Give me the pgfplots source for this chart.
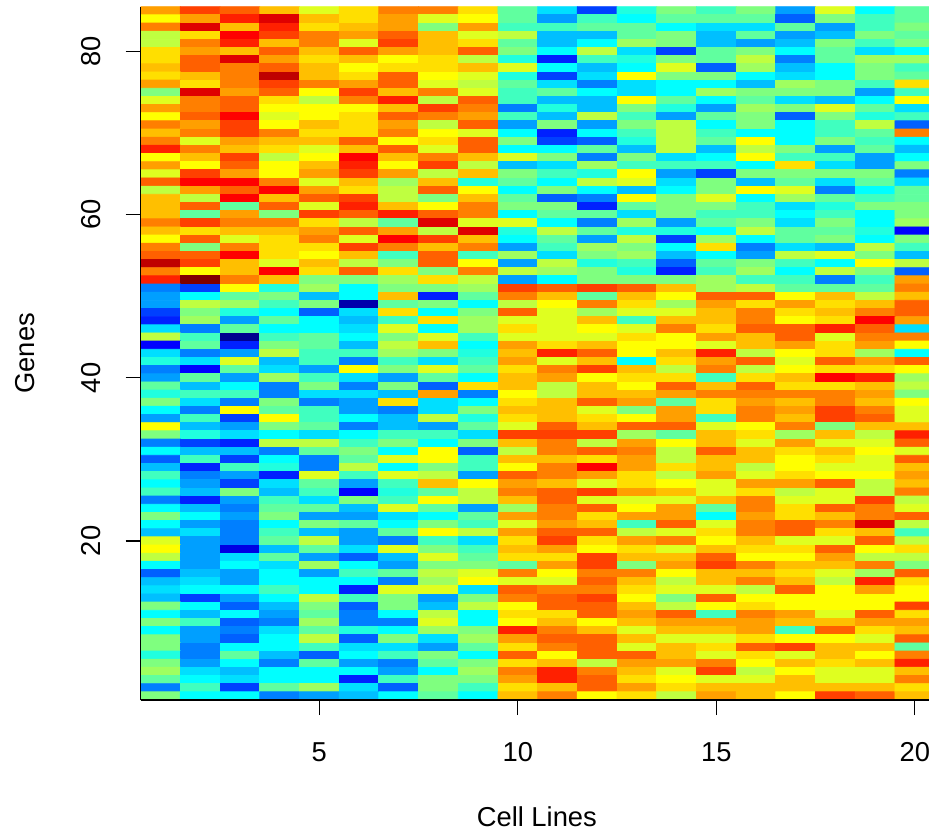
\documentclass[border=0pt]{standalone}
\usepackage{fontspec}
\setmainfont{Liberation Sans}
\usepackage{pgfplots}
\pgfplotsset{compat=1.18}
\begin{document}
\begin{tikzpicture}
\path[use as bounding box] (-70.35pt,-66pt) rectangle (394.15pt,350pt);
\begin{axis}[
  at={(0,0)},anchor=south west,
  scale only axis,width=394.15pt,height=346.65pt,
  xmin=0.5,xmax=20.357,ymin=0.5,ymax=85.5,
  axis x line*=bottom,axis y line*=left,
  axis line style={line width=0.65pt,-},
  xtick={5,10,15,20},ytick={20,40,60,80},
  tick align=outside,major tick length=7.5pt,
  tick style={line width=0.65pt,black},
  /pgf/number format/assume math mode=true,
  every tick label/.append style={font=\fontsize{13.67}{16}\selectfont},
  label style={font=\fontsize{13.67}{16}\selectfont},
  xticklabel style={anchor=base,yshift=-23pt},
  yticklabel style={rotate=90,anchor=base,yshift=12.5pt},
  xlabel={Cell Lines},ylabel={Genes},
  xlabel style={at={(axis description cs:0.5,0)},anchor=center,yshift=-58.5pt,xshift=1pt},
  ylabel style={at={(axis description cs:0,0.5)},anchor=center,yshift=58pt},
  colormap={rj}{rgb255(0)=(0,0,143) rgb255(4)=(0,0,255) rgb255(12)=(0,255,255) rgb255(20)=(255,255,0) rgb255(28)=(255,0,0) rgb255(32)=(128,0,0)},
  point meta min=0,point meta max=32,
  axis on top,
]
\addplot[matrix plot*,mesh/cols=20,point meta=\thisrowno{0}] table[row sep=crcr,header=false,
  x expr={mod(\coordindex,20)+1},y expr={85-floor((\coordindex+0.5)/20)}] {
23\\26\\25\\22\\19\\21\\24\\24\\21\\15\\11\\6\\13\\16\\14\\16\\9\\19\\12\\15\\
20\\23\\27\\29\\22\\21\\23\\19\\20\\15\\9\\14\\12\\15\\15\\15\\7\\16\\14\\15\\
24\\29\\22\\27\\21\\22\\23\\16\\23\\14\\14\\15\\15\\12\\11\\11\\15\\9\\14\\16\\
18\\21\\28\\26\\24\\23\\25\\22\\19\\18\\10\\10\\15\\16\\10\\15\\9\\10\\16\\15\\
18\\24\\27\\22\\24\\19\\26\\22\\21\\15\\10\\12\\17\\16\\10\\9\\10\\16\\14\\16\\
21\\23\\22\\25\\22\\25\\23\\22\\25\\16\\12\\18\\11\\6\\15\\16\\12\\15\\11\\12\\
21\\25\\29\\23\\21\\22\\20\\21\\18\\13\\5\\14\\13\\16\\15\\18\\8\\15\\17\\17\\
22\\25\\24\\25\\22\\20\\21\\21\\22\\19\\12\\10\\12\\19\\7\\17\\10\\12\\16\\14\\
21\\22\\24\\30\\22\\21\\25\\20\\19\\13\\6\\11\\20\\16\\16\\12\\11\\12\\16\\15\\
23\\21\\24\\26\\24\\23\\25\\19\\18\\15\\11\\8\\11\\12\\12\\10\\17\\16\\14\\21\\
16\\29\\23\\25\\20\\26\\22\\24\\19\\14\\15\\12\\11\\12\\17\\16\\16\\16\\9\\14\\
19\\24\\25\\21\\18\\24\\27\\18\\25\\14\\10\\10\\20\\15\\12\\15\\11\\10\\12\\20\\
23\\24\\25\\20\\20\\20\\22\\26\\24\\8\\13\\10\\16\\13\\9\\17\\16\\19\\15\\11\\
20\\25\\28\\19\\20\\21\\25\\24\\23\\14\\10\\18\\14\\9\\15\\16\\7\\16\\13\\14\\
24\\23\\26\\20\\22\\21\\23\\18\\25\\9\\16\\9\\16\\18\\12\\16\\12\\14\\18\\7\\
22\\24\\26\\24\\21\\21\\24\\20\\19\\12\\5\\12\\14\\18\\14\\12\\12\\14\\15\\24\\
24\\19\\23\\22\\22\\25\\20\\21\\25\\16\\6\\7\\13\\18\\15\\20\\12\\16\\14\\12\\
27\\24\\22\\21\\19\\22\\25\\19\\25\\12\\12\\15\\10\\18\\10\\18\\16\\9\\15\\10\\
20\\22\\26\\18\\20\\28\\22\\24\\22\\19\\16\\8\\16\\11\\12\\20\\14\\14\\9\\12\\
23\\20\\25\\20\\22\\27\\20\\26\\18\\10\\11\\17\\14\\14\\14\\12\\21\\11\\9\\16\\
19\\26\\23\\20\\23\\26\\23\\18\\22\\16\\14\\13\\20\\9\\6\\16\\16\\16\\16\\8\\
25\\28\\28\\24\\19\\22\\17\\22\\13\\15\\12\\18\\19\\11\\16\\10\\15\\11\\15\\11\\
18\\23\\25\\28\\23\\21\\18\\25\\20\\12\\16\\12\\10\\12\\16\\20\\19\\8\\12\\15\\
22\\18\\28\\22\\25\\26\\18\\16\\22\\15\\7\\8\\20\\16\\19\\12\\17\\15\\14\\15\\
22\\25\\15\\25\\19\\27\\22\\20\\24\\16\\16\\5\\15\\16\\16\\14\\11\\13\\16\\16\\
22\\15\\23\\16\\26\\25\\27\\25\\24\\12\\15\\15\\11\\16\\14\\14\\12\\14\\12\\16\\
24\\26\\24\\24\\21\\18\\15\\29\\19\\19\\12\\8\\17\\9\\15\\16\\11\\16\\12\\17\\
22\\21\\22\\22\\23\\25\\23\\18\\29\\13\\18\\15\\13\\13\\12\\18\\15\\15\\13\\4\\
20\\25\\19\\21\\24\\19\\28\\26\\22\\12\\15\\9\\18\\6\\17\\12\\15\\16\\12\\16\\
24\\16\\24\\21\\21\\26\\24\\22\\24\\9\\14\\17\\16\\12\\21\\8\\11\\10\\18\\14\\
25\\25\\28\\21\\20\\22\\14\\25\\14\\17\\11\\16\\17\\10\\12\\9\\18\\19\\16\\10\\
30\\26\\22\\19\\22\\18\\16\\25\\20\\9\\18\\13\\14\\7\\15\\16\\14\\12\\20\\18\\
24\\20\\22\\28\\21\\25\\21\\16\\24\\18\\17\\16\\13\\5\\14\\17\\12\\18\\16\\7\\
27\\32\\24\\22\\16\\16\\17\\21\\18\\9\\12\\16\\16\\16\\17\\14\\14\\8\\14\\23\\
8\\6\\20\\13\\17\\12\\16\\16\\17\\26\\25\\26\\25\\22\\17\\18\\15\\15\\15\\24\\
9\\12\\15\\16\\10\\12\\22\\5\\15\\24\\22\\15\\22\\20\\25\\25\\20\\22\\18\\22\\
9\\18\\17\\14\\16\\1\\15\\16\\12\\18\\20\\24\\21\\17\\23\\21\\23\\21\\22\\25\\
6\\16\\13\\12\\7\\11\\21\\12\\16\\25\\19\\17\\19\\19\\22\\24\\21\\22\\24\\25\\
5\\17\\9\\15\\12\\10\\14\\21\\17\\19\\19\\22\\14\\22\\22\\24\\20\\21\\28\\23\\
11\\8\\15\\12\\12\\11\\19\\12\\17\\21\\19\\20\\19\\24\\21\\25\\25\\27\\25\\11\\
18\\14\\0\\14\\15\\12\\16\\19\\14\\19\\19\\19\\21\\20\\23\\22\\25\\19\\24\\24\\
4\\15\\5\\16\\15\\10\\18\\22\\12\\23\\21\\22\\20\\20\\19\\22\\23\\21\\23\\20\\
11\\8\\9\\18\\14\\14\\17\\16\\13\\22\\27\\25\\20\\22\\27\\18\\20\\21\\17\\12\\
13\\11\\19\\10\\14\\8\\14\\11\\14\\23\\19\\22\\12\\21\\23\\25\\19\\25\\23\\25\\
8\\4\\15\\11\\9\\20\\16\\19\\15\\21\\24\\26\\22\\18\\24\\18\\20\\21\\21\\20\\
9\\15\\9\\17\\14\\11\\9\\15\\12\\22\\23\\20\\21\\21\\14\\21\\22\\28\\27\\17\\
15\\10\\12\\8\\16\\8\\16\\7\\21\\22\\18\\22\\20\\25\\22\\25\\21\\21\\22\\18\\
13\\14\\14\\8\\11\\11\\10\\23\\8\\20\\18\\22\\22\\23\\24\\24\\24\\24\\23\\16\\
16\\11\\8\\16\\8\\9\\21\\11\\12\\21\\22\\25\\23\\15\\21\\23\\22\\24\\22\\20\\
12\\8\\20\\15\\14\\9\\8\\11\\16\\22\\22\\19\\16\\23\\21\\24\\23\\26\\24\\19\\
9\\14\\6\\20\\14\\12\\10\\18\\13\\21\\22\\21\\20\\23\\14\\24\\22\\26\\25\\19\\
20\\10\\9\\16\\15\\8\\10\\9\\15\\19\\25\\22\\25\\25\\19\\20\\24\\16\\22\\22\\
16\\13\\11\\12\\11\\12\\14\\14\\11\\26\\26\\26\\17\\15\\22\\21\\17\\22\\18\\27\\
8\\6\\5\\18\\18\\14\\16\\12\\16\\22\\24\\18\\23\\20\\22\\19\\23\\19\\19\\25\\
12\\10\\10\\8\\15\\16\\12\\20\\7\\18\\24\\25\\24\\18\\25\\22\\21\\22\\20\\19\\
7\\14\\6\\12\\8\\15\\19\\20\\14\\22\\22\\21\\23\\18\\22\\22\\20\\21\\19\\25\\
10\\5\\14\\13\\8\\18\\12\\16\\14\\20\\24\\28\\23\\21\\22\\18\\20\\19\\19\\22\\
14\\8\\9\\5\\19\\14\\19\\18\\9\\25\\24\\23\\21\\18\\23\\19\\21\\20\\20\\23\\
12\\9\\6\\11\\15\\9\\14\\22\\20\\23\\22\\19\\21\\20\\19\\23\\23\\25\\18\\22\\
14\\10\\16\\10\\14\\4\\13\\15\\18\\24\\25\\26\\23\\22\\19\\21\\18\\19\\18\\24\\
8\\5\\9\\14\\11\\16\\14\\20\\18\\22\\25\\19\\19\\19\\22\\24\\19\\19\\26\\18\\
12\\10\\8\\15\\15\\10\\19\\15\\9\\17\\24\\25\\20\\23\\15\\24\\21\\25\\24\\19\\
16\\12\\9\\16\\9\\9\\11\\12\\15\\23\\24\\21\\23\\23\\12\\23\\21\\22\\24\\25\\
12\\9\\8\\12\\16\\15\\12\\16\\14\\19\\23\\22\\14\\25\\19\\24\\25\\24\\29\\18\\
10\\11\\8\\14\\10\\9\\15\\20\\18\\23\\25\\25\\18\\19\\21\\24\\25\\21\\22\\14\\
19\\9\\8\\15\\18\\9\\8\\14\\11\\21\\26\\21\\23\\24\\20\\22\\19\\19\\25\\18\\
20\\9\\3\\10\\15\\11\\19\\16\\14\\22\\23\\20\\21\\19\\22\\21\\21\\25\\20\\21\\
18\\9\\11\\15\\9\\7\\10\\19\\15\\21\\21\\26\\22\\22\\25\\20\\20\\23\\18\\18\\
12\\9\\12\\11\\17\\12\\9\\16\\16\\15\\23\\26\\16\\23\\26\\24\\22\\22\\24\\16\\
7\\10\\9\\12\\9\\14\\15\\18\\19\\24\\20\\24\\24\\20\\22\\22\\21\\19\\17\\25\\
10\\11\\9\\12\\12\\12\\8\\17\\20\\19\\19\\25\\22\\18\\22\\24\\22\\18\\27\\21\\
11\\12\\12\\14\\12\\5\\19\\19\\11\\25\\24\\24\\21\\19\\19\\18\\25\\20\\23\\20\\
10\\6\\9\\12\\18\\14\\16\\9\\16\\24\\25\\26\\20\\16\\25\\20\\20\\20\\20\\20\\
16\\12\\7\\10\\16\\7\\16\\10\\18\\20\\25\\25\\22\\18\\20\\21\\20\\20\\20\\26\\
12\\10\\12\\9\\15\\8\\12\\18\\12\\21\\21\\25\\23\\25\\14\\24\\23\\19\\25\\21\\
16\\14\\7\\8\\17\\8\\8\\19\\12\\20\\22\\20\\22\\23\\23\\23\\22\\22\\23\\23\\
12\\9\\8\\11\\15\\13\\12\\17\\16\\27\\24\\22\\19\\22\\22\\23\\14\\25\\21\\22\\
16\\9\\7\\12\\18\\7\\16\\11\\17\\23\\25\\25\\22\\19\\19\\21\\20\\20\\19\\25\\
16\\8\\12\\12\\14\\11\\11\\9\\15\\21\\24\\25\\19\\22\\21\\25\\26\\22\\22\\15\\
13\\8\\15\\10\\7\\12\\14\\16\\12\\25\\20\\25\\25\\22\\19\\21\\19\\22\\20\\24\\
16\\9\\12\\8\\15\\9\\8\\15\\16\\21\\22\\18\\23\\23\\24\\20\\22\\21\\22\\27\\
17\\11\\10\\12\\12\\12\\9\\12\\17\\24\\27\\24\\22\\19\\26\\18\\20\\19\\19\\22\\
15\\12\\11\\12\\12\\5\\14\\16\\16\\23\\27\\25\\21\\20\\19\\19\\22\\19\\19\\24\\
8\\14\\6\\15\\17\\11\\7\\16\\14\\21\\22\\25\\23\\21\\22\\22\\22\\22\\22\\21\\
16\\12\\12\\8\\9\\10\\12\\15\\12\\22\\24\\20\\21\\18\\23\\22\\20\\26\\25\\22\\
};
\end{axis}
\end{tikzpicture}
\end{document}
